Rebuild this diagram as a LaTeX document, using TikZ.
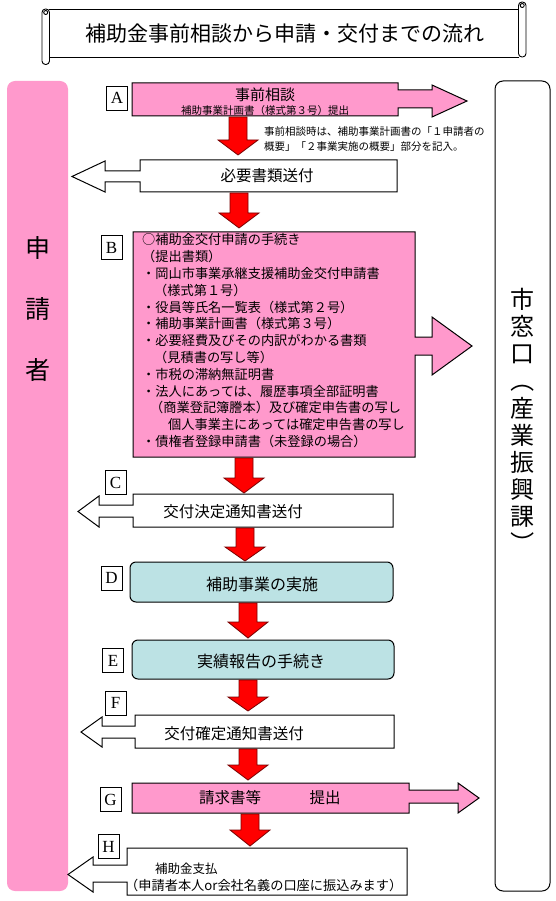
\documentclass[tikz,border=0pt]{standalone}
\usepackage{graphicx}
\usepackage{fontspec}
\setmainfont{Noto Sans CJK JP}
\newfontfamily\lblfont{Liberation Serif}
\usetikzlibrary{calc}
\definecolor{pinkfill}{RGB}{255,153,204}
\definecolor{cyanfill}{RGB}{188,226,228}
\definecolor{arrowedge}{RGB}{120,0,0}
\newcommand\fs[2]{\fontsize{#1}{#2}\selectfont}
\newcommand\vparen[1]{\rotatebox[origin=c]{-90}{#1}}
\newcommand\redarr[4]{%
  \draw[redarrowstyle] (#1-9,#2) -- (#1+9,#2) -- (#1+9,#3) -- (#1+20,#3) -- (#1,#4) -- (#1-20,#3) -- (#1-9,#3) -- cycle;}
\begin{document}
\begin{tikzpicture}[x=1pt,y=-1pt,
  boxline/.style={draw=black,line width=1},
  pinkbox/.style={boxline,fill=pinkfill},
  whitebox/.style={boxline,fill=white},
  cyanbox/.style={boxline,fill=cyanfill,rounded corners=6},
  scrollline/.style={draw=black,line width=0.9},
  lbl/.style={draw=black,line width=0.8,fill=white,minimum width=21,minimum height=24,inner sep=0,font=\lblfont\fs{17}{17}},
  redarrowstyle/.style={fill=red,draw=arrowedge,line width=0.8},
  txt/.style={inner sep=0,anchor=center}
]
\useasboundingbox (0,0) rectangle (555,901);
\fill[white] (0,0) rectangle (555,901);

% title scroll
\draw[scrollline] (49,9) -- (519,9);
\draw[scrollline] (49,57) -- (519,57);
\draw[scrollline,fill=white,rounded corners=3.5] (42,9) rectangle (49.5,64.5);
\draw[scrollline,fill=white,rounded corners=3.5] (518.5,2) rectangle (526,57);
\draw[scrollline] (45.7,12.5) circle (2);
\draw[scrollline] (522.2,5.5) circle (2);
\node[txt,font=\fs{21}{21}] (title) at (285,34) {補助金事前相談から申請・交付までの流れ};

% side columns
\node[fill=pinkfill,draw=none,rounded corners=8,minimum width=61,minimum height=810,inner sep=0] (applicant) at (37.5,486) {};
\node[txt,font=\fs{25}{61},align=center] (applicanttxt) at (38,309) {申\\請\\者};
\node[boxline,fill=white,rounded corners=8,minimum width=55,minimum height=810,inner sep=0] (office) at (522.5,486) {};
\node[txt,font=\fs{24}{27.2},align=center] (officetxt) at (522.5,422) {市\\窓\\口\\\vparen{（}\\産\\業\\振\\興\\課\\\vparen{）}};

% A
\draw[pinkbox] (132,83) -- (398,83) -- (398,90) -- (432,90) -- (432,85) -- (467,101) -- (432,117) -- (432,108) -- (398,108) -- (398,116) -- (132,116) -- cycle;
\node[txt,font=\fs{15}{15}] (atitle) at (265,95) {事前相談};
\node[txt,font=\fs{10.5}{10.5}] (asub) at (265,111) {補助事業計画書（様式第３号）提出};
\node[lbl] (la) at (117,98) {A};
\node[anchor=west,inner sep=0,font=\fs{10.5}{15},align=left] (note) at (264,139.5) {事前相談時は、補助事業計画書の「１申請者の\\概要」「２事業実施の概要」部分を記入。};

% 必要書類送付
\draw[whitebox] (397,160) -- (140,160) -- (140,171) -- (105,171) -- (105,161) -- (72,176.5) -- (105,192) -- (105,182) -- (140,182) -- (140,192) -- (397,192) -- cycle;
\node[txt,font=\fs{15.5}{15.5}] (hitsuyo) at (267,176) {必要書類送付};

% B
\draw[pinkbox] (133,232) -- (415,232) -- (415,337) -- (432,337) -- (432,317) -- (472,346) -- (432,375) -- (432,355) -- (415,355) -- (415,457) -- (133,457) -- cycle;
\node[lbl] (lb) at (111.5,247.5) {B};
\node[anchor=north west,inner sep=0,font=\fs{13.2}{16.8},align=left] (btxt) at (142,233.5) {%
○補助金交付申請の手続き\\
（提出書類）\\
・岡山市事業承継支援補助金交付申請書\\
\hspace*{12pt}（様式第１号）\\
・役員等氏名一覧表（様式第２号）\\
・補助事業計画書（様式第３号）\\
・必要経費及びその内訳がわかる書類\\
\hspace*{12pt}（見積書の写し等）\\
・市税の滞納無証明書\\
・法人にあっては、履歴事項全部証明書\\
\hspace*{8pt}（商業登記簿謄本）及び確定申告書の写し\\
\hspace*{26pt}個人事業主にあっては確定申告書の写し\\
・債権者登録申請書（未登録の場合）};

% C
\draw[whitebox] (393,494) -- (133,494) -- (133,505) -- (99,505) -- (99,496) -- (78,511.5) -- (99,527) -- (99,517) -- (133,517) -- (133,527) -- (393,527) -- cycle;
\node[lbl] (lc) at (115.5,482.5) {C};
\node[txt,font=\fs{15.5}{15.5}] (ctxt) at (233,512) {交付決定通知書送付};

% D
\draw[cyanbox] (130,562) rectangle (393,602);
\node[lbl] (ld) at (111.5,578) {D};
\node[txt,font=\fs{16}{16}] (dtxt) at (262,584) {補助事業の実施};

% E
\draw[cyanbox] (132,640) rectangle (394,679);
\node[lbl] (le) at (113,660.5) {E};
\node[txt,font=\fs{16}{16}] (etxt) at (261,661) {実績報告の手続き};

% F
\draw[whitebox] (394,715) -- (135,715) -- (135,726) -- (102,726) -- (102,717) -- (81,732) -- (102,747) -- (102,738) -- (135,738) -- (135,748) -- (394,748) -- cycle;
\node[lbl] (lf) at (115.5,703) {F};
\node[txt,font=\fs{15.5}{15.5}] (ftxt) at (234,734) {交付確定通知書送付};

% G
\draw[pinkbox] (132,783) -- (409,783) -- (409,790) -- (458,790) -- (458,783) -- (479,798) -- (458,813) -- (458,803) -- (409,803) -- (409,813) -- (132,813) -- cycle;
\node[lbl] (lg) at (110.5,799.5) {G};
\node[txt,font=\fs{15.5}{15.5}] (gtxt1) at (230,798) {請求書等};
\node[txt,font=\fs{15.5}{15.5}] (gtxt2) at (325,798) {提出};

% H
\draw[whitebox] (407,848) -- (127,848) -- (127,865) -- (93,865) -- (93,857) -- (68,874.5) -- (93,892) -- (93,882) -- (127,882) -- (127,895) -- (407,895) -- cycle;
\node[lbl] (lh) at (108.5,846.5) {H};
\node[anchor=west,inner sep=0,font=\fs{12.5}{12.5}] (htxt1) at (155,869) {補助金支払};
\node[anchor=west,inner sep=0,font=\fs{13.2}{13.2}] (htxt2) at (125,885) {（申請者本人or会社名義の口座に振込みます）};

% red arrows
\redarr{238}{117}{140}{155}
\redarr{239}{193}{213}{228}
\redarr{244}{458}{478}{493}
\redarr{245}{528}{547}{561}
\redarr{248}{603}{622}{638}
\redarr{248}{680}{697}{711}
\redarr{248}{749}{765}{780}
\redarr{250}{814}{830}{846}
\end{tikzpicture}
\end{document}
